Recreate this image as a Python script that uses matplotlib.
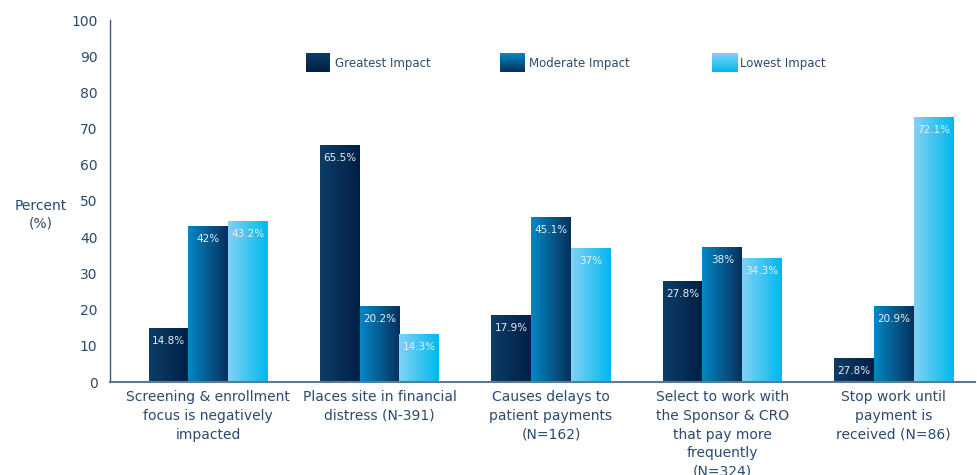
import numpy as np
import matplotlib
matplotlib.use("Agg")
import matplotlib.pyplot as plt
from matplotlib.colors import LinearSegmentedColormap

categories = [
    "Screening & enrollment\nfocus is negatively\nimpacted",
    "Places site in financial\ndistress (N-391)",
    "Causes delays to\npatient payments\n(N=162)",
    "Select to work with\nthe Sponsor & CRO\nthat pay more\nfrequently\n(N=324)",
    "Stop work until\npayment is\nreceived (N=86)",
]
series_names = ["Greatest Impact", "Moderate Impact", "Lowest Impact"]
greatest = [14.9, 65.6, 18.5, 27.8, 6.6]
moderate = [43.0, 20.9, 45.7, 37.2, 20.9]
lowest = [44.6, 13.2, 36.9, 34.2, 73.3]
greatest_labels = ["14.8%", "65.5%", "17.9%", "27.8%", "27.8%"]
moderate_labels = ["42%", "20.2%", "45.1%", "38%", "20.9%"]
lowest_labels = ["43.2%", "14.3%", "37%", "34.3%", "72.1%"]
yticks = [0, 10, 20, 30, 40, 50, 60, 70, 80, 90, 100]

series = [greatest, moderate, lowest]
labels = [greatest_labels, moderate_labels, lowest_labels]
grad_colors = [("#0d3d66", "#001f46"), ("#0488c6", "#06305c"), ("#82d2f5", "#00b8ef")]

text_color = "#2b4a6e"
plt.rcParams['font.family'] = ['DejaVu Sans']

fig = plt.figure(figsize=(9.77, 4.75), dpi=100)
ax = fig.add_axes([110/977, 1-382/475, 865/977, 362/475])

x = np.arange(len(categories))
width = 0.232
grad = np.linspace(0, 1, 256).reshape(1, -1)

for i, (vals, labs, (c0, c1)) in enumerate(zip(series, labels, grad_colors)):
    cmap = LinearSegmentedColormap.from_list(f"g{i}", [c0, c1])
    offs = (i - 1) * width
    bars = ax.bar(x + offs, vals, width, color="none", edgecolor="none")
    for b, lab in zip(bars, labs):
        bx, bw, bh = b.get_x(), b.get_width(), b.get_height()
        im = ax.imshow(grad, cmap=cmap, aspect="auto",
                       extent=[bx, bx + bw, 0, bh], zorder=2)
        im.set_clip_path(b)
        ax.annotate(lab, (bx + bw/2, bh), xytext=(0, -13), textcoords="offset pixels",
                    ha="center", va="center", color="#e8eff6", fontsize=7.5, zorder=3)

ax.set_xlim(-0.573, 4.474)
ax.set_ylim(0, 100)
ax.set_yticks(yticks)
ax.set_yticklabels([str(t) for t in yticks], fontsize=10, color=text_color)
ax.set_xticks(x)
ax.set_xticklabels(categories, fontsize=10, color=text_color, va="top", linespacing=1.42)
ax.tick_params(axis="both", length=0)
ax.tick_params(axis="y", pad=9)
ax.tick_params(axis="x", pad=6)
for s in ["top", "right"]:
    ax.spines[s].set_visible(False)
ax.spines["left"].set_color("#3c5a7c")
ax.spines["left"].set_linewidth(1.0)
ax.spines["bottom"].set_color("#5b7a99")
ax.spines["bottom"].set_linewidth(1.5)

fig.text(41/977, 1-215/475, "Percent\n(%)", ha="center", va="center",
         fontsize=10, color=text_color, linespacing=1.3)

# legend with gradient swatches
vgrad = np.linspace(0, 1, 64).reshape(-1, 1)
leg_x = [(0.2266, 0.2543, 0.2600), (0.4509, 0.4798, 0.4844), (0.6960, 0.7250, 0.7283)]
for name, (c0, c1), (xa, xb, xt) in zip(series_names, grad_colors, leg_x):
    cmap = LinearSegmentedColormap.from_list("l" + name, [c1, c0])
    ax.imshow(vgrad, cmap=cmap, aspect="auto", extent=[xa, xb, 0.856, 0.906],
              transform=ax.transAxes, origin="lower", zorder=3, clip_on=False)
    ax.text(xt, 0.881, name, transform=ax.transAxes, ha="left", va="center",
            fontsize=8.5, color=text_color)

ax.set_xlim(-0.573, 4.474)
ax.set_ylim(0, 100)
fig.savefig("out.png", dpi=100)
